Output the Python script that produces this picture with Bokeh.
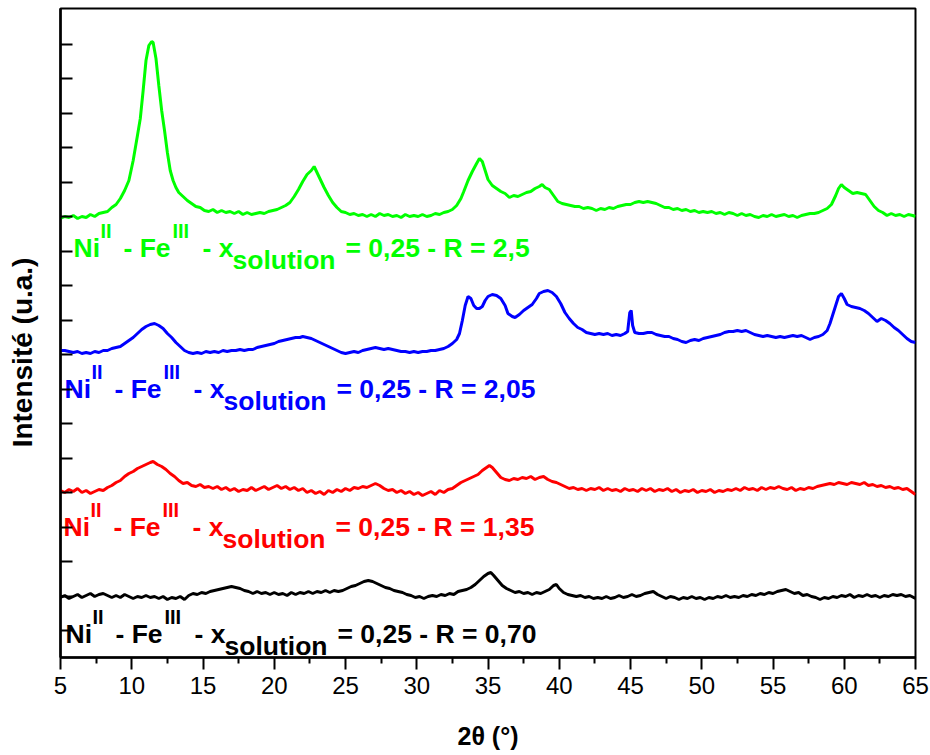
from bokeh.plotting import figure
from bokeh.models import Range1d, FixedTicker
from bokeh.core.properties import value
from bokeh.embed import file_html
from bokeh.resources import INLINE

# ---- data: (2theta, intensity a.u.) ----
green_pts = [(5.0,2),(5.3,4),(5.6,3),(5.9,5),(6.2,2),(6.5,4),(6.8,3),(7.1,6),(7.4,4),(7.7,7),(8.0,8),(8.3,9),(8.6,13),(8.9,16),(9.2,22),(9.5,30),(9.8,40),(10.1,60),(10.4,85),(10.6,102),(10.8,130),(11.0,160),(11.2,175),(11.4,179),(11.5,178),(11.7,162),(11.9,135),(12.1,110),(12.3,90),(12.5,68),(12.7,50),(12.9,40),(13.1,33),(13.3,28),(13.6,24),(13.9,20),(14.2,17),(14.5,14),(14.8,13),(15.1,10),(15.4,9),(15.7,11),(16.0,8),(16.3,10),(16.6,8),(16.9,9),(17.2,7),(17.5,9),(17.8,6),(18.1,8),(18.4,6),(18.7,7),(19.0,8),(19.3,7),(19.6,9),(19.9,10),(20.2,11),(20.5,13),(20.8,15),(21.1,18),(21.4,24),(21.7,31),(22.0,39),(22.3,46),(22.6,50),(22.8,54),(23.0,48),(23.2,42),(23.5,33),(23.8,25),(24.1,18),(24.4,13),(24.7,9),(25.0,8),(25.3,6),(25.6,7),(25.9,5),(26.2,6),(26.5,4),(26.8,6),(27.1,4),(27.4,7),(27.7,5),(28.0,6),(28.3,4),(28.6,5),(28.9,3),(29.2,6),(29.5,4),(29.8,5),(30.1,4),(30.4,6),(30.7,4),(31.0,5),(31.3,7),(31.6,6),(31.9,8),(32.2,9),(32.5,11),(32.8,15),(33.1,22),(33.3,29),(33.6,40),(33.9,49),(34.2,57),(34.4,62),(34.6,59),(34.8,50),(35.0,41),(35.3,35),(35.6,32),(35.9,29),(36.2,27),(36.5,23),(36.8,25),(37.1,24),(37.4,26),(37.7,28),(38.0,29),(38.3,32),(38.6,34),(38.8,36),(39.0,33),(39.3,31),(39.6,25),(39.9,19),(40.2,17),(40.5,16),(40.8,15),(41.1,14),(41.4,14),(41.7,12),(42.0,13),(42.3,12),(42.6,10),(42.9,12),(43.2,11),(43.5,13),(43.8,12),(44.1,14),(44.4,15),(44.7,16),(45.0,16),(45.3,18),(45.6,19),(45.9,18),(46.2,19),(46.5,18),(46.8,17),(47.1,15),(47.4,13),(47.7,13),(48.0,11),(48.3,12),(48.6,10),(48.9,11),(49.2,9),(49.5,10),(49.8,8),(50.1,9),(50.4,8),(50.7,9),(51.0,7),(51.3,8),(51.6,6),(51.9,8),(52.2,7),(52.5,5),(52.8,7),(53.1,5),(53.4,6),(53.7,4),(54.0,3),(54.3,5),(54.6,4),(54.9,6),(55.2,4),(55.5,5),(55.8,6),(56.1,4),(56.4,5),(56.7,3),(57.0,5),(57.3,6),(57.6,7),(57.9,7),(58.2,8),(58.5,10),(58.8,12),(59.1,16),(59.4,25),(59.6,32),(59.8,36),(60.0,33),(60.3,30),(60.6,27),(60.9,28),(61.2,27),(61.5,26),(61.8,20),(62.1,14),(62.4,10),(62.7,8),(63.0,5),(63.3,7),(63.6,5),(63.9,6),(64.2,4),(64.5,6),(64.8,5),(65.0,4)]

blue_pts = [(5.0,10),(5.3,10),(5.6,9),(5.9,8),(6.2,9),(6.5,7),(6.8,8),(7.1,7),(7.4,9),(7.7,8),(8.0,10),(8.3,10),(8.6,12),(8.9,13),(9.2,14),(9.5,17),(9.8,20),(10.1,23),(10.4,27),(10.7,31),(11.0,34),(11.3,36),(11.6,37),(11.9,35),(12.2,32),(12.5,27),(12.8,23),(13.1,18),(13.4,14),(13.7,10),(14.0,8),(14.3,7),(14.6,8),(14.9,7),(15.2,9),(15.5,8),(15.8,9),(16.1,8),(16.4,10),(16.7,9),(17.0,10),(17.3,10),(17.6,11),(17.9,10),(18.2,11),(18.5,11),(18.8,13),(19.1,14),(19.4,15),(19.7,16),(20.0,17),(20.3,19),(20.6,20),(20.9,21),(21.2,22),(21.5,23),(21.8,23),(22.0,24),(22.3,23),(22.6,22),(22.9,20),(23.2,18),(23.5,16),(23.8,14),(24.1,12),(24.4,10),(24.7,8),(25.0,7),(25.3,8),(25.6,9),(25.9,8),(26.2,10),(26.5,11),(26.8,12),(27.1,13),(27.4,12),(27.7,11),(28.0,12),(28.3,11),(28.6,10),(28.9,9),(29.2,9),(29.5,8),(29.8,9),(30.1,8),(30.4,9),(30.7,9),(31.0,10),(31.3,10),(31.6,11),(31.9,12),(32.2,14),(32.5,17),(32.8,21),(33.0,27),(33.2,40),(33.4,55),(33.6,64),(33.8,62),(34.0,55),(34.2,52),(34.4,52),(34.6,54),(34.8,60),(35.0,64),(35.3,66),(35.6,65),(35.9,62),(36.2,55),(36.4,47),(36.7,44),(36.9,43),(37.2,46),(37.5,50),(37.8,53),(38.1,56),(38.4,62),(38.6,67),(38.9,69),(39.2,70),(39.5,68),(39.8,64),(40.1,57),(40.4,48),(40.7,42),(41.0,37),(41.3,33),(41.6,31),(41.9,28),(42.2,27),(42.5,26),(42.8,27),(43.1,26),(43.4,27),(43.7,25),(44.0,26),(44.3,25),(44.6,27),(44.8,29),(44.95,48),(45.05,50),(45.15,35),(45.3,28),(45.6,27),(45.9,27),(46.2,28),(46.5,28),(46.8,26),(47.1,25),(47.4,24),(47.7,24),(48.0,22),(48.3,21),(48.6,19),(48.9,18),(49.2,20),(49.5,21),(49.8,20),(50.1,22),(50.4,23),(50.7,24),(51.0,25),(51.3,26),(51.6,28),(51.9,29),(52.2,29),(52.5,30),(52.8,29),(53.1,30),(53.4,28),(53.7,26),(54.0,25),(54.3,24),(54.6,25),(54.9,24),(55.2,23),(55.5,24),(55.8,23),(56.1,24),(56.4,25),(56.7,24),(57.0,25),(57.3,23),(57.6,21),(57.9,23),(58.2,24),(58.5,26),(58.8,30),(59.0,37),(59.2,46),(59.4,55),(59.6,64),(59.8,67),(60.0,62),(60.2,56),(60.5,54),(60.8,53),(61.1,52),(61.4,50),(61.7,47),(62.0,43),(62.3,39),(62.6,42),(62.9,40),(63.2,37),(63.5,33),(63.8,30),(64.1,26),(64.4,22),(64.7,19),(65.0,18)]

red_pts = [(5.0,10),(5.3,8),(5.6,11),(5.9,9),(6.2,12),(6.5,8),(6.8,10),(7.1,7),(7.4,9),(7.7,11),(8.0,10),(8.3,13),(8.6,15),(8.9,18),(9.2,20),(9.5,24),(9.8,27),(10.1,29),(10.4,32),(10.7,34),(11.0,36),(11.3,38),(11.5,39),(11.8,36),(12.1,34),(12.4,31),(12.7,27),(13.0,24),(13.3,20),(13.6,17),(13.9,18),(14.2,15),(14.5,14),(14.8,16),(15.1,13),(15.4,14),(15.7,12),(16.0,14),(16.3,11),(16.6,13),(16.9,10),(17.2,12),(17.5,9),(17.8,11),(18.1,10),(18.4,13),(18.7,10),(19.0,12),(19.3,14),(19.6,11),(19.9,13),(20.2,15),(20.5,12),(20.8,14),(21.1,11),(21.4,13),(21.7,10),(22.0,12),(22.3,8),(22.6,10),(22.9,7),(23.2,9),(23.5,6),(23.8,10),(24.1,8),(24.4,11),(24.7,9),(25.0,12),(25.3,10),(25.6,13),(25.9,12),(26.2,14),(26.5,13),(26.8,15),(27.1,17),(27.4,15),(27.7,12),(28.0,10),(28.3,11),(28.6,8),(28.9,10),(29.2,7),(29.5,9),(29.8,6),(30.1,8),(30.4,5),(30.7,7),(31.0,9),(31.3,6),(31.6,10),(31.9,8),(32.2,11),(32.5,12),(32.8,15),(33.1,18),(33.4,20),(33.7,22),(34.0,24),(34.3,26),(34.6,30),(34.9,33),(35.1,35),(35.3,33),(35.6,28),(35.9,23),(36.2,21),(36.5,20),(36.8,22),(37.1,21),(37.4,23),(37.7,22),(38.0,24),(38.3,21),(38.6,23),(38.9,24),(39.2,21),(39.5,19),(39.8,18),(40.1,16),(40.4,14),(40.7,12),(41.0,13),(41.3,11),(41.6,12),(41.9,10),(42.2,12),(42.5,11),(42.8,13),(43.1,10),(43.4,12),(43.7,10),(44.0,11),(44.3,9),(44.6,12),(44.9,10),(45.2,11),(45.5,9),(45.8,12),(46.1,10),(46.4,12),(46.7,9),(47.0,11),(47.3,10),(47.6,12),(47.9,9),(48.2,11),(48.5,8),(48.8,10),(49.1,9),(49.4,11),(49.7,8),(50.0,10),(50.3,9),(50.6,11),(50.9,8),(51.2,10),(51.5,9),(51.8,11),(52.1,10),(52.4,12),(52.7,10),(53.0,13),(53.3,11),(53.6,12),(53.9,10),(54.2,13),(54.5,11),(54.8,13),(55.1,12),(55.4,14),(55.7,12),(56.0,11),(56.3,13),(56.6,10),(56.9,12),(57.2,11),(57.5,13),(57.8,12),(58.1,14),(58.4,15),(58.7,16),(59.0,17),(59.3,16),(59.6,18),(59.9,17),(60.2,16),(60.5,18),(60.8,17),(61.1,16),(61.4,18),(61.7,15),(62.0,16),(62.3,14),(62.6,15),(62.9,13),(63.2,14),(63.5,12),(63.8,13),(64.1,11),(64.4,12),(64.7,9),(65.0,6)]

black_pts = [(5.0,8),(5.3,10),(5.6,7),(5.9,9),(6.2,11),(6.5,8),(6.8,10),(7.1,12),(7.4,9),(7.7,11),(8.0,12),(8.3,10),(8.6,8),(8.9,10),(9.2,8),(9.5,11),(9.8,9),(10.1,7),(10.4,9),(10.7,8),(11.0,10),(11.3,8),(11.6,9),(11.9,7),(12.2,9),(12.5,6),(12.8,8),(13.1,7),(13.4,9),(13.7,6),(14.0,10),(14.3,12),(14.6,11),(14.9,13),(15.2,12),(15.5,14),(15.8,15),(16.1,16),(16.4,17),(16.7,18),(17.0,19),(17.3,18),(17.6,17),(17.9,15),(18.2,14),(18.5,12),(18.8,14),(19.1,12),(19.4,13),(19.7,11),(20.0,13),(20.3,11),(20.6,12),(20.9,10),(21.2,13),(21.5,11),(21.8,13),(22.1,12),(22.4,14),(22.7,12),(23.0,14),(23.3,13),(23.6,15),(23.9,13),(24.2,15),(24.5,14),(24.8,15),(25.1,17),(25.4,19),(25.7,20),(26.0,22),(26.3,24),(26.6,25),(26.9,24),(27.2,22),(27.5,20),(27.8,18),(28.1,17),(28.4,15),(28.7,14),(29.0,13),(29.3,11),(29.6,10),(29.9,8),(30.2,9),(30.5,7),(30.8,9),(31.1,10),(31.4,9),(31.7,11),(32.0,10),(32.3,12),(32.6,11),(32.9,14),(33.2,15),(33.5,16),(33.8,18),(34.1,21),(34.4,25),(34.7,29),(35.0,32),(35.2,33),(35.4,30),(35.7,25),(36.0,20),(36.3,17),(36.6,15),(36.9,13),(37.2,14),(37.5,12),(37.8,13),(38.1,11),(38.4,13),(38.7,12),(39.0,14),(39.3,16),(39.6,20),(39.8,21),(40.0,17),(40.3,13),(40.6,11),(40.9,10),(41.2,9),(41.5,10),(41.8,8),(42.1,9),(42.4,7),(42.7,8),(43.0,7),(43.3,9),(43.6,7),(43.9,8),(44.2,10),(44.5,8),(44.8,9),(45.1,11),(45.4,9),(45.7,10),(46.0,12),(46.3,13),(46.6,14),(46.9,11),(47.2,9),(47.5,7),(47.8,9),(48.1,8),(48.4,6),(48.7,8),(49.0,7),(49.3,9),(49.6,7),(49.9,8),(50.2,6),(50.5,8),(50.8,7),(51.1,9),(51.4,8),(51.7,10),(52.0,8),(52.3,9),(52.6,8),(52.9,10),(53.2,9),(53.5,11),(53.8,10),(54.1,12),(54.4,11),(54.7,13),(55.0,12),(55.3,14),(55.6,15),(55.9,16),(56.2,14),(56.5,12),(56.8,13),(57.1,10),(57.4,11),(57.7,9),(58.0,8),(58.3,6),(58.6,8),(58.9,7),(59.2,9),(59.5,8),(59.8,10),(60.1,9),(60.4,11),(60.7,8),(61.0,10),(61.3,9),(61.6,11),(61.9,9),(62.2,10),(62.5,8),(62.8,10),(63.1,9),(63.4,11),(63.7,10),(64.0,11),(64.3,9),(64.6,10),(65.0,7)]

series = [black_pts, red_pts, blue_pts, green_pts]
offsets = [52, 157, 297, 437]          # vertical stacking offsets (a.u.)
colors = ["#000000", "#ff0000", "#0000ff", "#00ff00"]
r_values = ["0,70", "1,35", "2,05", "2,5"]
x_ticks = [5, 10, 15, 20, 25, 30, 35, 40, 45, 50, 55, 60, 65]
x_minor = [7.5, 12.5, 17.5, 22.5, 27.5, 32.5, 37.5, 42.5, 47.5, 52.5, 57.5, 62.5]
y_ticks = [27 + 34.5 * k for k in range(18)]

FONT = "Liberation Sans"

p = figure(width=930, height=755, output_backend="svg", toolbar_location=None,
           x_range=Range1d(5, 65), y_range=Range1d(0, 649),
           min_border_left=60, min_border_right=15, min_border_top=8, min_border_bottom=98,
           background_fill_color="white", border_fill_color="white")
p.xgrid.visible = False
p.ygrid.visible = False
p.outline_line_color = "black"
p.outline_line_width = 2

for pts, off, col in zip(series, offsets, colors):
    xs = [a for a, b in pts]
    ys = [b + off for a, b in pts]
    p.line(xs, ys, line_color=col, line_width=3)

# x axis
p.xaxis.ticker = FixedTicker(ticks=x_ticks, minor_ticks=x_minor)
p.xaxis.axis_line_width = 2.5
p.xaxis.major_tick_line_width = 2
p.xaxis.minor_tick_line_width = 2
p.xaxis.major_tick_out = 12
p.xaxis.major_tick_in = 0
p.xaxis.minor_tick_out = 6
p.xaxis.minor_tick_in = 0
p.xaxis.major_label_text_font = FONT
p.xaxis.major_label_text_font_size = "24px"
p.xaxis.major_label_text_color = "black"
p.xaxis.major_label_standoff = 7
p.xaxis.axis_label = "2θ (°)"
p.xaxis.axis_label_text_font = FONT
p.xaxis.axis_label_text_font_style = "bold"
p.xaxis.axis_label_text_font_size = "25px"
p.xaxis.axis_label_text_color = "black"
p.xaxis.axis_label_standoff = 25

# y axis
p.yaxis.ticker = FixedTicker(ticks=y_ticks, minor_ticks=[])
p.yaxis.axis_line_width = 2.5
p.yaxis.major_tick_line_width = 2
p.yaxis.major_tick_in = 12
p.yaxis.major_tick_out = 0
p.yaxis.minor_tick_in = 0
p.yaxis.minor_tick_out = 0
p.yaxis.major_label_text_color = None
p.yaxis.major_label_standoff = 0
# trailing no-break spaces shift the centred title slightly down, as in the original
p.yaxis.axis_label = "Intensité (u.a.)" + "\u00a0" * 5
p.yaxis.axis_label_text_font = FONT
p.yaxis.axis_label_text_font_style = "bold"
p.yaxis.axis_label_text_font_size = "28px"
p.yaxis.axis_label_text_color = "black"
p.yaxis.axis_label_standoff = 23

# sample labels
label_start = [5, 3, 4, 13]            # px from frame left
label_base = [24, 131, 269, 410]       # baseline (a.u.)
MAIN, SUP = "26.5px", "20px"
for col, r, sx, base in zip(colors, r_values, label_start, label_base):
    pieces = [("Ni", 0, 0, MAIN), ("II", 27, 17, SUP), ("- Fe", 50, 0, MAIN),
              ("III", 99, 17, SUP), ("- x", 129, 0, MAIN), ("solution", 159, -12, MAIN),
              ("= 0,25 - R = " + r, 272, 0, MAIN)]
    for t, dx, dy, fs in pieces:
        p.text(x=[5], y=[base + dy], text=[t], x_offset=sx + dx,
               text_align="left", text_baseline="alphabetic",
               text_font=value(FONT), text_font_style="bold",
               text_font_size=value(fs), text_color=col)

open("out.html", "w").write(file_html(p, INLINE))
